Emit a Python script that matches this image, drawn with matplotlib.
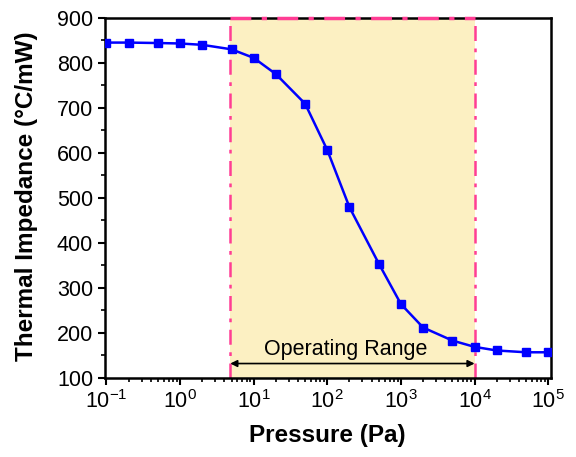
import numpy as np
import matplotlib.pyplot as plt
from matplotlib.ticker import LogLocator, MultipleLocator, NullFormatter

plt.rcParams['font.family'] = ['Liberation Sans', 'DejaVu Sans']
plt.rcParams['axes.unicode_minus'] = False

# pressure (Pa) and thermal impedance (°C/mW)
pressure = [0.1, 0.2, 0.5, 1, 2, 5, 10, 20, 50, 100, 200, 500,
            1000, 2000, 5000, 1e4, 2e4, 5e4, 1e5]
impedance = [845, 845, 844, 843, 840, 830, 811, 775, 709, 606, 479, 354,
             264, 212, 183, 169, 161, 157, 157]

range_lo, range_hi = 4.8, 1e4

fig = plt.figure(figsize=(5.76, 4.57), dpi=100)
ax = fig.add_axes([0.182, 0.173, 0.774, 0.788])

ax.set_xscale('log')
ax.set_xlim(0.095, 1.08e5)
ax.set_ylim(100, 900)

# operating range shading
ax.axvspan(range_lo, range_hi, color='#fcf0c2', zorder=0, lw=0)
for xv in (range_lo, range_hi):
    ax.axvline(xv, color='#ff3d94', lw=1.8, ls=(0, (6, 3, 1.5, 3)), zorder=1)
ax.plot([range_lo, range_hi], [900, 900], color='#ff3d94', lw=2.5,
        ls=(0, (6, 3, 1.5, 3)), zorder=4, clip_on=False)

ax.plot(pressure, impedance, color='#0000ff', lw=1.8, marker='s', ms=6,
        zorder=3)

ax.annotate('', xy=(range_lo, 132), xytext=(range_hi, 132),
            arrowprops=dict(arrowstyle='<|-|>', color='black', lw=1.2,
                            mutation_scale=10, shrinkA=0, shrinkB=0))
ax.text(np.sqrt(range_lo * range_hi) * 0.8, 140, 'Operating Range',
        ha='center', va='bottom', fontsize=15.5)

ax.set_xlabel('Pressure (Pa)', fontsize=17.5, fontweight='bold', labelpad=8)
ax.set_ylabel('Thermal Impedance (°C/mW)', fontsize=17.5, fontweight='bold',
              va='center')
ax.yaxis.set_label_coords(-0.175, 0.506)

ax.xaxis.set_major_locator(LogLocator(base=10, numticks=20))
ax.xaxis.set_minor_locator(LogLocator(base=10, subs=np.arange(2, 10), numticks=20))
ax.xaxis.set_minor_formatter(NullFormatter())
ax.yaxis.set_major_locator(MultipleLocator(100))
ax.yaxis.set_minor_locator(MultipleLocator(50))

ax.tick_params(which='major', direction='out', length=5, width=1.5,
               labelsize=15.5, top=False, right=False)
ax.tick_params(which='minor', direction='out', length=3, width=1.2,
               top=False, right=False)
for s in ax.spines.values():
    s.set_linewidth(1.8)

fig.savefig('out.png', dpi=100)
